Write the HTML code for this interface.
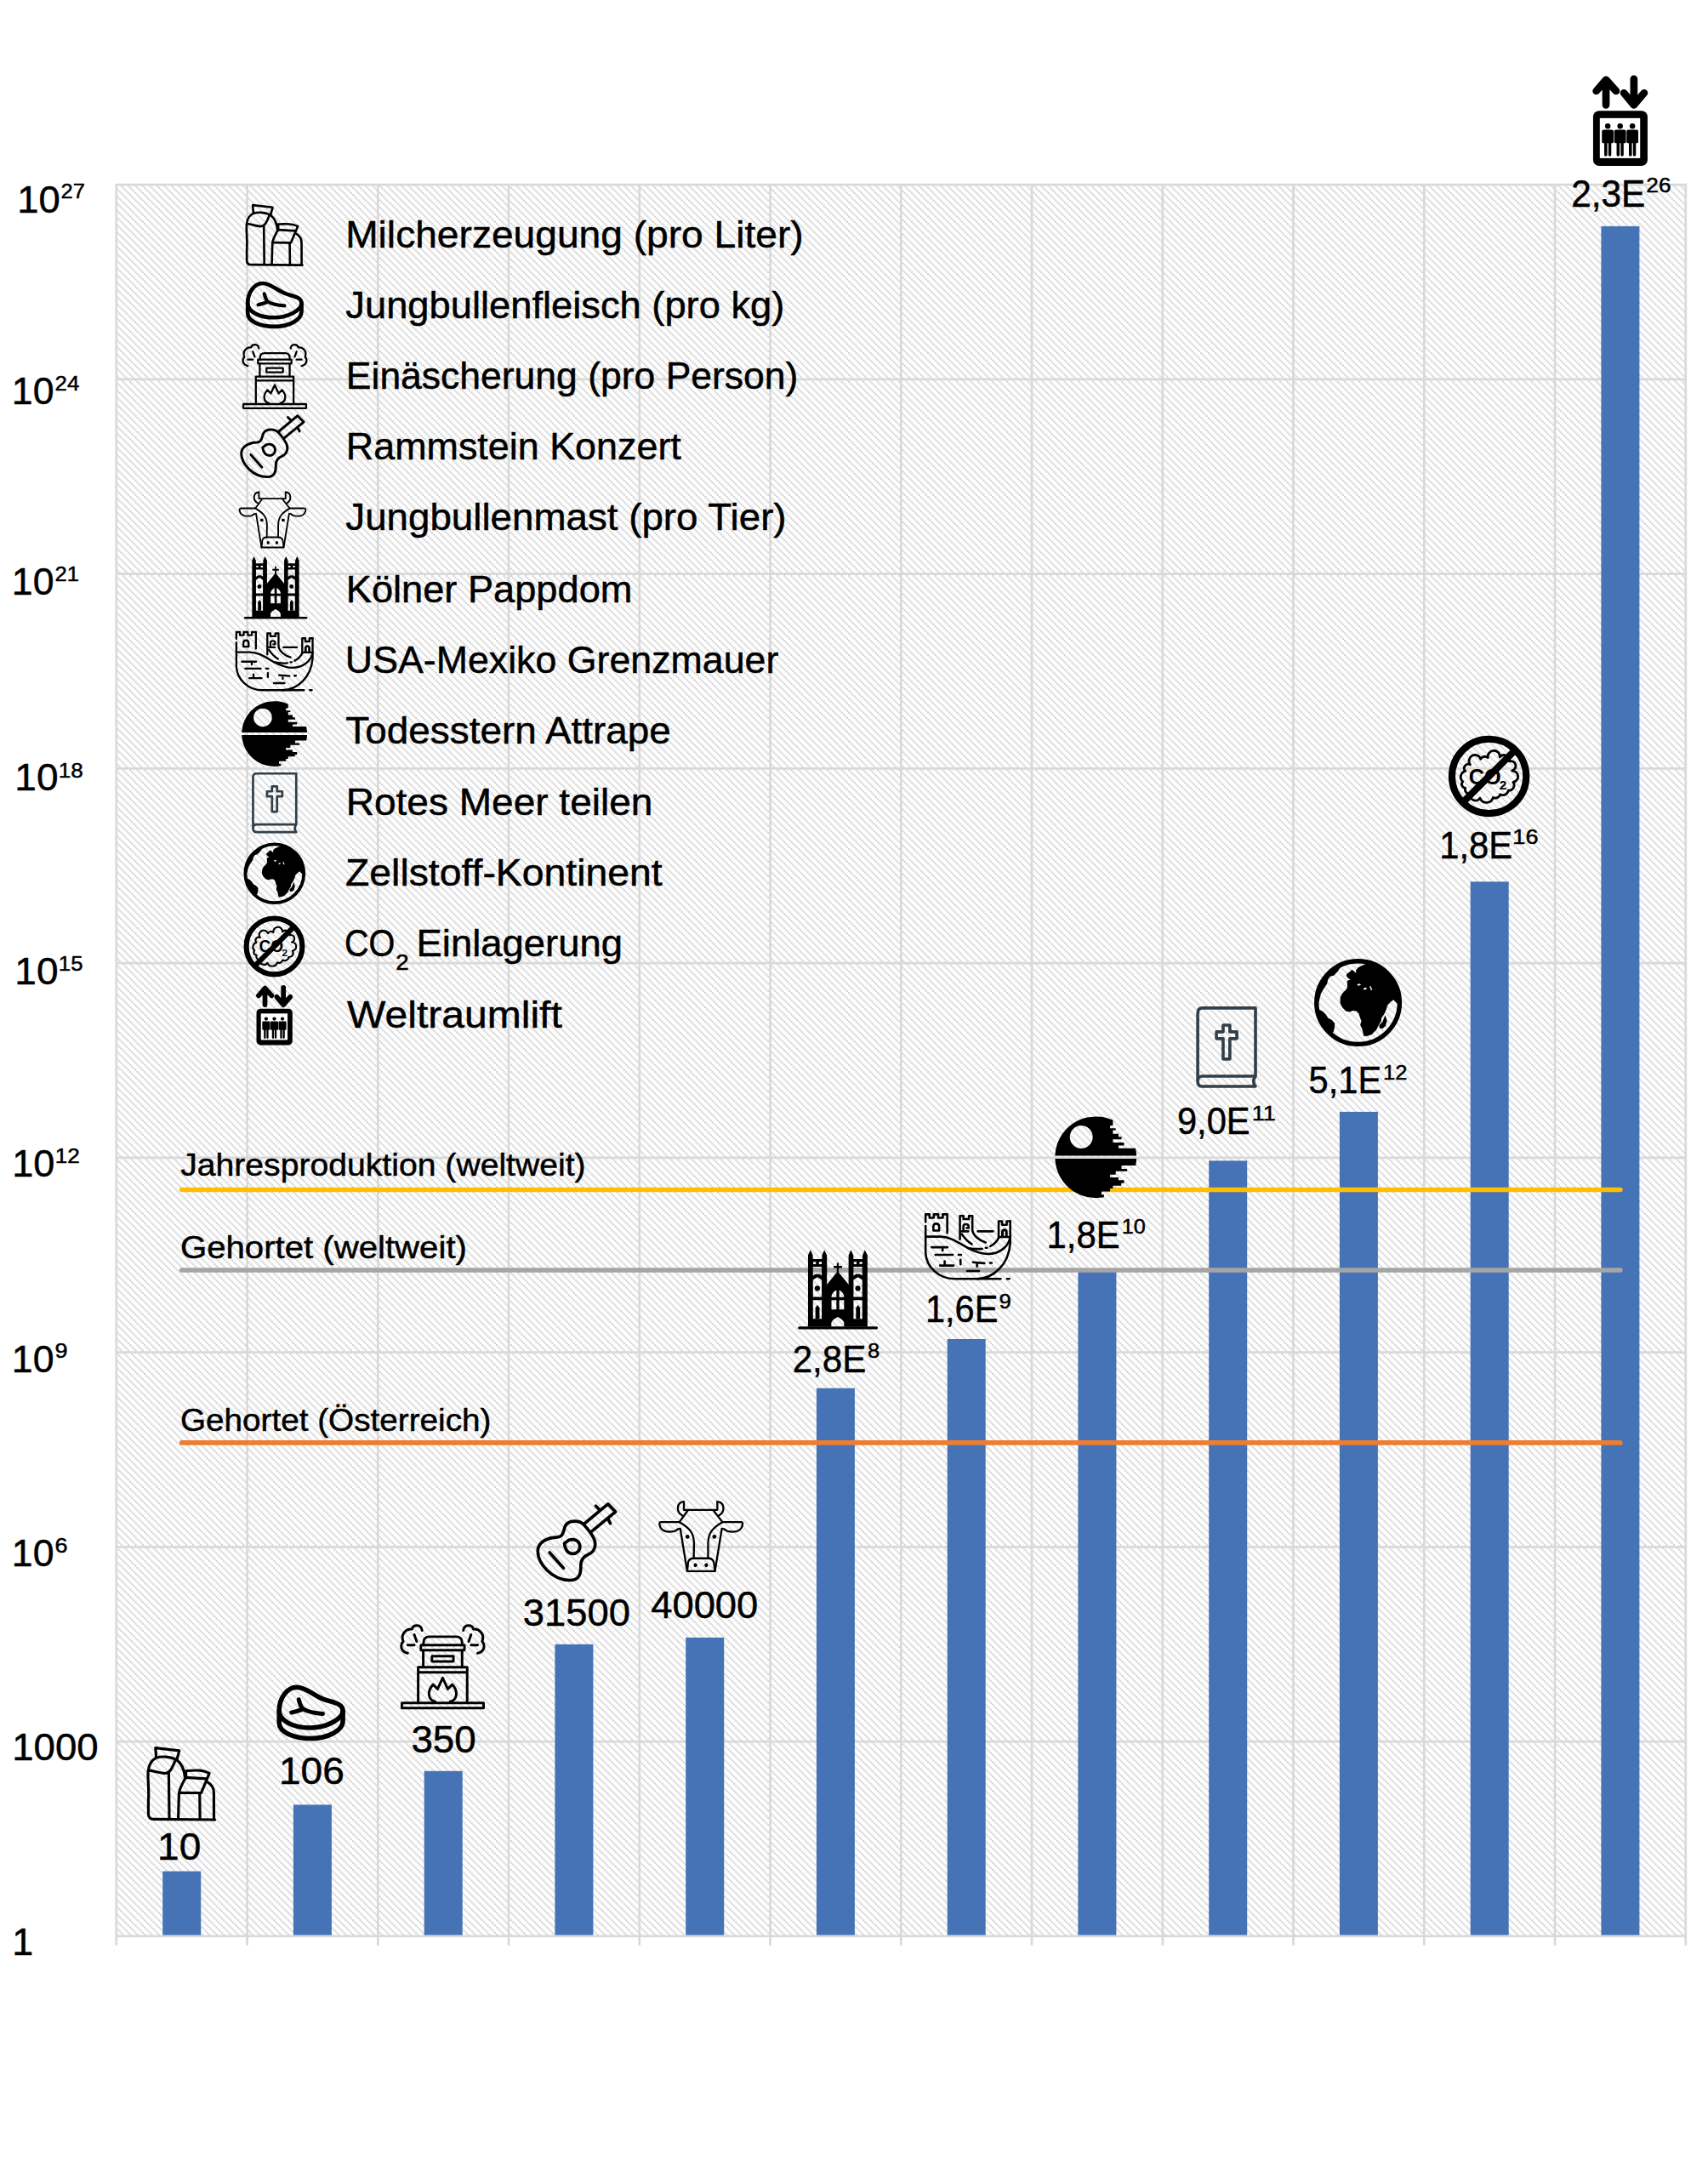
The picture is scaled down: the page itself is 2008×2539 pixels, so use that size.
<!DOCTYPE html>
<html lang="de"><head><meta charset="utf-8"><title>Chart</title>
<style>html,body{margin:0;padding:0;background:#fff}svg{display:block}text{font-family:"Liberation Sans",sans-serif;fill:#000;stroke:#000;stroke-width:.5px;stroke-linejoin:round}</style></head><body>
<svg width="2008" height="2539" viewBox="0 0 2008 2539">
<defs>
<pattern id="hatch" width="8.45" height="8.45" patternUnits="userSpaceOnUse"><rect width="8.45" height="8.45" fill="#fff"/><path d="M0,0h2.11v2.11h-2.11zM2.11,2.11h2.11v2.11h-2.11zM4.22,4.22h2.12v2.12h-2.12zM6.34,6.34h2.11v2.11h-2.11z" fill="#d2d2d2"/></pattern>
<g id="i-milk" fill="none" stroke="#000" stroke-width="54" stroke-linecap="round" stroke-linejoin="round">
<path d="M352,368 L338,182 L815,236 L768,418"/>
<path d="M192,645 C200,520 270,420 350,382 C460,345 630,350 748,412 C850,480 915,600 928,765"/>
<path d="M200,630 C330,650 450,692 530,692 C625,688 670,600 735,432"/>
<path d="M192,645 C175,800 215,1000 195,1250 L195,1500 Q195,1612 300,1612 L1530,1622"/>
<path d="M605,692 L615,1605"/>
<path d="M940,780 C880,900 815,1000 810,1100 L795,1610"/>
<path d="M950,790 L950,640 C1100,640 1250,600 1420,690 L1255,1085 L830,1082"/>
<path d="M950,775 L1365,800"/>
<path d="M1225,1090 L1232,1610"/>
<path d="M1385,870 C1470,920 1510,1000 1510,1080 L1512,1622"/>
</g>
<g id="i-steak" fill="none" stroke="#000" stroke-width="94" stroke-linecap="round" stroke-linejoin="round">
<path d="M225,700 C225,450 380,225 580,225 C760,225 900,380 1100,460 C1300,540 1500,540 1505,700 C1505,850 1200,1040 850,1040 C500,1040 225,900 225,700 Z"/>
<path d="M225,700 L225,940 C225,1130 520,1255 860,1255 C1200,1255 1505,1100 1505,900 L1505,700"/>
<path stroke-width="86" d="M620,475 C640,560 660,620 700,660 M475,735 C560,715 640,700 700,660 C800,720 950,750 1100,760"/>
</g>
<g id="i-crem" fill="none" stroke="#000" stroke-width="42" stroke-linecap="round" stroke-linejoin="round">
<rect x="177" y="1447" width="1368" height="88" rx="6"/>
<path d="M450,1445 V850 H1270 V1445 M450,935 H1270"/>
<path d="M535,570 V850 M1185,570 V850"/>
<rect x="495" y="480" width="730" height="86" rx="6"/>
<path d="M540,480 V440 Q540,340 640,340 H1085 Q1185,340 1185,440 V480"/>
<rect x="680" y="665" width="360" height="90" rx="6"/>
<path d="M735,1425 C620,1400 590,1260 700,1140 L775,1215 L860,1030 L945,1215 L1020,1140 C1130,1260 1100,1400 985,1425"/>
<path d="M515,235 C500,130 370,130 345,215 C250,200 150,300 200,420 C130,500 180,600 275,615 M385,305 L425,420 M275,480 H385"/>
<path d="M 1205.0,235 C 1220.0,130 1350.0,130 1375.0,215 C 1470.0,200 1570.0,300 1520.0,420 C 1590.0,500 1540.0,600 1445.0,615 M 1335.0,305 L 1295.0,420 M 1445.0,480 H 1335.0"/>
</g>
<g id="i-guitar" fill="none" stroke="#000" stroke-width="54" stroke-linecap="round" stroke-linejoin="round">
<path d="M975,530 C900,455 700,440 650,570 C620,660 620,740 520,748 C350,755 180,830 180,990 C180,1200 420,1495 740,1495 C900,1495 930,1380 925,1230 C925,1130 980,1080 1060,1045 C1170,1000 1200,880 1150,770 C1110,690 1040,600 975,530 Z"/>
<path d="M975,525 L1395,175 L1525,310 L1095,665"/>
<path d="M1185,210 L1250,275 M1400,440 L1435,510"/>
<path d="M640,858 L720,800 C800,770 900,800 910,905 C915,990 850,1035 785,1035 C700,1035 655,960 640,858 Z"/>
<path d="M385,1015 L625,1285"/>
</g>
<g id="i-cow" fill="none" stroke="#000" stroke-width="33" stroke-linecap="round" stroke-linejoin="round">
<path d="M555,188 V325 H1115 V188"/>
<path d="M555,188 C430,200 420,360 530,420 M1115,188 C1240,200 1250,360 1140,420"/>
<path d="M620,335 L480,528 M1050,335 L1200,528"/>
<path d="M480,528 L170,528 Q138,532 150,580 C175,690 290,705 400,680 Q440,665 455,645 L495,640 L610,1350 H1075 L1190,640 L1230,645 Q1245,665 1285,680 C1395,705 1510,690 1535,580 Q1547,532 1515,528 L1200,528"/>
<path d="M480,530 C640,620 720,700 725,880 L720,1135 M1200,530 C1045,620 965,700 960,880 L960,1135"/>
<path d="M612,1345 L625,1205 Q640,1135 720,1135 H965 Q1040,1135 1057,1205 L1075,1345"/>
<g fill="#000" stroke="none"><circle cx="615" cy="775" r="34"/><circle cx="1065" cy="775" r="34"/><ellipse cx="748" cy="1250" rx="30" ry="34"/><ellipse cx="930" cy="1250" rx="30" ry="34"/></g>
</g>
<g id="i-church" fill="#000" stroke="none">
<path fill-rule="evenodd" d="M310,1545 V240 L352,145 L398,240 V310 H565 V240 L608,145 L655,240 V1545 Z M405,362 H455 V402 H405 Z M510,362 H560 V402 H510 Z M400,450 H560 V612 C540,590 510,575 480,585 C450,575 420,595 400,618 Z M400,690 L480,640 L560,690 V1000 H400 Z M400,1060 H560 V1400 H400 Z"/>
<path fill-rule="evenodd" d="M1050,1545 V240 L1092,145 L1138,240 V310 H1305 V240 L1348,145 L1395,240 V1545 Z M1145,362 H1195 V402 H1145 Z M1250,362 H1300 V402 H1250 Z M1140,450 H1300 V612 C1280,590 1250,575 1220,585 C1190,575 1160,595 1140,618 Z M1140,690 L1220,640 L1300,690 V1000 H1140 Z M1140,1060 H1300 V1400 H1140 Z"/>
<circle cx="480" cy="845" r="48"/><path d="M445,1400 V1200 L482,1150 L520,1200 V1400 Z"/><circle cx="1220" cy="845" r="48"/><path d="M1185,1400 V1200 L1222,1150 L1260,1200 V1400 Z"/>
<path fill-rule="evenodd" d="M640,1545 V792 L852,530 L1065,792 V1545 Z M738,1005 V985 C750,930 790,890 828,878 V1005 Z M968,1005 V985 C955,930 915,890 880,878 V1005 Z M738,1058 H828 V1230 H738 Z M880,1058 H968 V1230 H880 Z M735,1545 V1475 Q745,1420 852,1365 Q958,1420 968,1475 V1545 Z"/>
<path d="M835,380 H870 V435 H930 V475 H870 V560 H835 V475 H778 V435 H835 Z"/>
<rect x="125" y="1540" width="1460" height="52" rx="26"/>
</g>
<g id="i-wall" fill="none" stroke="#000" stroke-width="38" stroke-linecap="round" stroke-linejoin="round">
<path d="M120,270 V138 H188 V198 H262 V138 H340 V198 H418 V138 H495 V460"/>
<path d="M255,420 V350 Q255,300 305,300 Q355,300 355,350 V420 Z"/>
<path d="M120,340 V800 C130,1050 350,1255 620,1255 H1000 C1300,1255 1560,1000 1585,640 V258"/>
<path d="M1000,1255 H1420 M1530,1255 H1570"/>
<path d="M120,525 H380 C560,525 700,640 850,720 C1000,800 1100,825 1200,825 C1400,825 1540,700 1580,560"/>
<path d="M850,720 C950,740 1030,742 1100,735 M1160,718 H1185"/>
<path d="M1385,545 V258 H1445 V320 H1525 V258 H1585 M1385,530 H1585"/>
<path stroke-width="44" d="M1450,520 V450 Q1450,410 1485,410 Q1520,410 1520,450 V520"/>
<path d="M715,570 V165 H775 V220 H870 V165 H930 V400 C930,500 1050,590 1160,625"/>
<path d="M745,480 C800,560 860,620 920,655"/>
<path d="M775,400 V345 Q775,310 820,310 Q865,310 865,350 V375 H830 M745,432 H860"/>
<path d="M1385,545 C1350,620 1300,660 1240,690"/>
<path d="M1025,432 H1285"/>
<path d="M225,708 H500 M415,708 V765 M290,840 H590 M690,840 H735 M725,925 V1005 M450,950 V1025 M370,1025 H605 M940,968 L1140,985 M1010,980 V1040 M1235,978 H1265 M840,1120 H1045"/>
</g>
<g id="i-dstar" fill="#000" stroke="none">
<path fill-rule="evenodd" d="M858,128 L699,146 L634,163 L586,181 L546,198 L511,216 L480,233 L453,251 L428,268 L405,286 L383,304 L363,321 L345,339 L328,356 L312,374 L297,391 L283,409 L269,426 L257,444 L245,461 L234,479 L224,497 L214,514 L205,532 L197,549 L189,567 L181,584 L174,602 L168,619 L162,637 L157,654 L152,672 L148,690 L144,707 L140,725 L137,742 L135,760 L132,777 L131,795 L129,812 L129,830 L1587,830 L1587,826 L1587,823 L1587,819 L1587,816 L1587,812 L1586,809 L1586,805 L1586,802 L1586,798 L1585,795 L1585,791 L1585,788 L1584,784 L1584,781 L1584,777 L1583,774 L1583,770 L1582,767 L1582,763 L1581,760 L1581,756 L1580,753 L1580,749 L1579,746 L1579,742 L1578,739 L1578,735 L1577,732 L1576,728 L1576,725 L1575,721 L1574,718 L1574,714 L1573,711 L1572,707 L1571,704 L1571,700 L1570,697 L1265,697 L1265,693 L1265,690 L1265,686 L1265,683 L1265,679 L1265,676 L1265,672 L1265,669 L1265,665 L1265,662 L1265,658 L1265,654 L1265,651 L1265,647 L1365,647 L1365,644 L1365,640 L1365,637 L1365,633 L1365,630 L1365,626 L1365,623 L1365,619 L1365,616 L1365,612 L1365,609 L1365,605 L1365,602 L1365,598 L1365,595 L1165,595 L1165,591 L1165,588 L1165,584 L1165,581 L1165,577 L1165,574 L1165,570 L1165,567 L1165,563 L1165,560 L1165,556 L1165,553 L1165,549 L1165,546 L1165,542 L1165,539 L1320,539 L1320,535 L1320,532 L1320,528 L1320,525 L1320,521 L1320,518 L1320,514 L1320,511 L1320,507 L1320,504 L1320,500 L1320,497 L1320,493 L1320,490 L1265,490 L1265,486 L1265,483 L1265,479 L1265,475 L1265,472 L1265,468 L1265,465 L1265,461 L1265,458 L1265,454 L1265,451 L1265,447 L1265,444 L1265,440 L1265,437 L1165,437 L1165,433 L1165,430 L1165,426 L1165,423 L1165,419 L1165,416 L1165,412 L1165,409 L1165,405 L1165,402 L1165,398 L1165,395 L1165,391 L1165,388 L1165,384 L1165,381 L1165,377 L1165,374 L1215,374 L1215,370 L1215,367 L1215,363 L1215,360 L1215,356 L1215,353 L1215,349 L1215,346 L1215,342 L1215,339 L1115,339 L1115,335 L1115,332 L1115,328 L1115,325 L1115,321 L1115,318 L1115,314 L1115,311 L1115,307 L1115,304 L1115,300 L1115,296 L1115,293 L1115,289 L1165,289 L1165,286 L1165,282 L1165,279 L1165,275 L1165,272 L1165,268 L1165,265 L1165,261 L1165,258 L1165,254 L1165,251 L1165,247 L1165,244 L1165,240 L1165,237 L1165,233 L1165,230 L1165,226 L1165,223 L1165,219 L1165,216 L1165,212 L1165,209 L1165,205 L1165,202 L1165,198 L1163,195 L1155,191 L1147,188 L1139,184 L1130,181 L1121,177 L1112,174 L1102,170 L1092,167 L1082,163 L1070,160 L1059,156 L1046,153 L1032,149 L1017,146 L1000,142 L982,139 L959,135 L930,132 L858,128 Z M803,495 A205,205 0 1 0 393,495 A205,205 0 1 0 803,495 Z"/>
<path d="M128,885 L129,903 L131,920 L132,938 L135,955 L137,973 L140,990 L144,1008 L148,1026 L152,1043 L157,1061 L162,1078 L168,1096 L174,1113 L181,1131 L188,1149 L196,1166 L205,1184 L214,1201 L223,1219 L234,1236 L245,1254 L257,1272 L269,1289 L282,1307 L296,1324 L311,1342 L328,1360 L345,1377 L363,1395 L383,1412 L404,1430 L427,1447 L452,1465 L480,1483 L511,1500 L545,1518 L586,1535 L634,1553 L699,1570 L858,1588 L858,1588 L930,1584 L959,1581 L982,1577 L1001,1574 L1005,1570 L1005,1567 L1005,1563 L1005,1560 L1005,1556 L1005,1553 L1005,1549 L1005,1546 L1005,1542 L1005,1539 L1005,1535 L1005,1532 L1005,1528 L960,1528 L960,1525 L960,1521 L960,1518 L960,1514 L960,1511 L960,1507 L960,1504 L960,1500 L960,1497 L960,1493 L960,1490 L960,1486 L960,1483 L960,1479 L960,1476 L960,1472 L1115,1472 L1115,1468 L1115,1465 L1115,1461 L1115,1458 L1115,1454 L1115,1451 L1115,1447 L1115,1444 L1115,1440 L1115,1437 L1115,1433 L1115,1430 L1115,1426 L1115,1423 L1115,1419 L1165,1419 L1165,1416 L1165,1412 L1165,1409 L1165,1405 L1165,1402 L1165,1398 L1165,1395 L1165,1391 L1165,1388 L1165,1384 L1165,1381 L1165,1377 L1165,1374 L1165,1370 L1165,1367 L1315,1367 L1315,1363 L1315,1360 L1315,1356 L1315,1352 L1315,1349 L1315,1345 L1315,1342 L1315,1338 L1315,1335 L1315,1331 L1315,1328 L1315,1324 L1365,1324 L1365,1321 L1365,1317 L1365,1314 L1365,1310 L1365,1307 L1365,1303 L1365,1300 L1365,1296 L1365,1293 L1365,1289 L1365,1286 L1365,1282 L1365,1279 L1365,1275 L1365,1272 L1365,1268 L1265,1268 L1265,1265 L1265,1261 L1265,1258 L1265,1254 L1265,1251 L1265,1247 L1265,1244 L1265,1240 L1265,1236 L1265,1233 L1265,1229 L1265,1226 L1265,1222 L1265,1219 L1115,1219 L1115,1215 L1115,1212 L1115,1208 L1115,1205 L1115,1201 L1115,1198 L1115,1194 L1115,1191 L1115,1187 L1115,1184 L1115,1180 L1115,1177 L1115,1173 L1115,1170 L1215,1170 L1215,1166 L1215,1163 L1215,1159 L1215,1156 L1215,1152 L1215,1149 L1215,1145 L1215,1142 L1215,1138 L1215,1135 L1215,1131 L1215,1128 L1215,1124 L1215,1121 L1215,1117 L1215,1113 L1215,1110 L1420,1110 L1420,1106 L1420,1103 L1420,1099 L1420,1096 L1420,1092 L1420,1089 L1420,1085 L1420,1082 L1420,1078 L1420,1075 L1420,1071 L1420,1068 L1320,1068 L1320,1064 L1320,1061 L1320,1057 L1320,1054 L1320,1050 L1320,1047 L1320,1043 L1320,1040 L1320,1036 L1320,1033 L1320,1029 L1320,1026 L1320,1022 L1320,1019 L1320,1015 L1320,1012 L1320,1008 L1572,1008 L1573,1005 L1574,1001 L1575,997 L1575,994 L1576,990 L1577,987 L1577,983 L1578,980 L1578,976 L1579,973 L1579,969 L1580,966 L1581,962 L1581,959 L1581,955 L1582,952 L1582,948 L1583,945 L1583,941 L1584,938 L1584,934 L1584,931 L1585,927 L1585,924 L1585,920 L1586,917 L1586,913 L1586,910 L1586,906 L1587,903 L1587,899 L1587,896 L1587,892 L1587,889 L1588,885 Z"/>
</g>
<g id="i-bible" fill="none" stroke="#333f48" stroke-width="62" stroke-linecap="round" stroke-linejoin="round">
<path d="M1435,1555 V185 H370 Q275,185 275,290 V1660 Q275,1760 370,1760 H1435 C1388,1700 1388,1620 1435,1555 H370 Q275,1555 275,1660"/>
<path d="M785,530 H920 V665 H1060 V800 H920 V1210 H785 V800 H650 V665 H785 Z"/>
</g>
<g id="i-globe">
<circle cx="848" cy="848" r="707" fill="none" stroke="#000" stroke-width="78"/>
<path fill="#000" fill-rule="evenodd" d="M960,195 L850,250 L810,300 L818,348 L745,285 L700,330 L665,350 L645,390 L690,440 L722,450 L660,480 L668,580 L650,620 L580,690 L545,760 L545,860 L580,930 L640,990 L700,1005 L760,985 L820,990 L860,1030 L880,1100 L905,1160 L885,1230 L920,1300 L945,1420 L1010,1415 L1080,1390 L1160,1310 L1190,1250 L1240,1160 L1250,1100 L1290,1050 L1330,960 L1350,890 L1400,840 L1450,800 L1520,870 L1563,848 L1556,748 L1535,651 L1501,557 L1454,469 L1396,388 L1326,317 L1248,255 L1161,205 L1069,168 Z M825,545 L865,520 L900,545 L860,560 Z M930,610 L975,590 L1005,610 L960,628 Z M1045,575 L1060,560 L1090,630 L1070,640 Z"/>
<path fill="#000" d="M1310,1060 L1340,1150 L1320,1240 L1262,1292 L1215,1282 L1208,1232 L1260,1180 L1290,1110 Z"/>
<path fill="#000" d="M170,955 L250,1000 L300,1050 L340,1110 L400,1140 L452,1200 L447,1280 L432,1340 L395,1385 L300,1300 L200,1150 L150,1000 Z"/>
<path fill="#000" d="M610,180 L555,240 L500,320 L440,382 L370,405 L335,460 L320,530 L270,600 L215,700 L182,835 L135,835 L150,600 L300,350 L500,195 Z"/>
</g>
<g id="i-co2">
<path d="M503,633 A110,110 0 1 1 695,531 A85,85 0 0 1 827,507 A110,110 0 1 1 1045,494 A100,100 0 0 1 1219,572 A90,90 0 0 1 1270,745 A105,105 0 0 1 1287,954 A95,95 0 0 1 1199,1104 A100,100 0 0 1 1051,1177 A95,95 0 0 1 920,1236 A125,125 0 0 1 683,1245 A100,100 0 0 1 502,1169 A80,80 0 0 1 416,1060 A70,70 0 0 1 368,943 A110,110 0 0 1 416,753 A75,75 0 0 1 503,633 Z" fill="none" stroke="#000" stroke-width="44" stroke-linejoin="round"/>
<text x="478" y="988" font-size="400" font-weight="bold" textLength="590" lengthAdjust="spacingAndGlyphs" style="font-family:'Liberation Sans',sans-serif;stroke:none">CO</text>
<text x="1035" y="1082" font-size="240" font-weight="bold" style="font-family:'Liberation Sans',sans-serif;stroke:none">2</text>
<circle cx="848" cy="845" r="678" fill="none" stroke="#000" stroke-width="126"/>
<path d="M372,1322 L1325,368" stroke="#000" stroke-width="126" fill="none"/>
</g>
<g id="i-elev">
<rect x="295" y="875" width="1115" height="1130" rx="125" fill="#000"/>
<rect x="432" y="1025" width="826" height="820" fill="#fff"/>
<g fill="#000"><circle cx="595" cy="1190" r="56"/><rect x="475" y="1265" width="240" height="272" rx="32"/><rect x="523" y="1500" width="62" height="305" rx="30"/><rect x="607" y="1500" width="60" height="305" rx="30"/><circle cx="848" cy="1190" r="56"/><rect x="728" y="1265" width="240" height="272" rx="32"/><rect x="776" y="1500" width="62" height="305" rx="30"/><rect x="860" y="1500" width="60" height="305" rx="30"/><circle cx="1100" cy="1190" r="56"/><rect x="980" y="1265" width="240" height="272" rx="32"/><rect x="1028" y="1500" width="62" height="305" rx="30"/><rect x="1112" y="1500" width="60" height="305" rx="30"/></g>
<path d="M558,245 V755 M360,470 L558,240 L765,470 M1130,225 V740 M925,510 L1130,755 L1340,510" fill="none" stroke="#000" stroke-width="152" stroke-linecap="round" stroke-linejoin="round"/>
</g>
</defs>
<rect x="0" y="0" width="2008" height="2539" fill="#fff"/>
<rect x="136.8" y="217.2" width="1845.0" height="2058.6000000000004" fill="url(#hatch)"/>
<path d="M135.5,217.2H1983.1 M135.5,445.9H1983.1 M135.5,674.7H1983.1 M135.5,903.4H1983.1 M135.5,1132.1H1983.1 M135.5,1360.9H1983.1 M135.5,1589.6H1983.1 M135.5,1818.3H1983.1 M135.5,2047.1H1983.1 M135.5,2275.8H1983.1 M136.8,217.2V2286.8 M290.6,217.2V2286.8 M444.3,217.2V2286.8 M598.0,217.2V2286.8 M751.8,217.2V2286.8 M905.5,217.2V2286.8 M1059.3,217.2V2286.8 M1213.0,217.2V2286.8 M1366.8,217.2V2286.8 M1520.5,217.2V2286.8 M1674.3,217.2V2286.8 M1828.0,217.2V2286.8 M1981.8,217.2V2286.8" stroke="#d9d9d9" stroke-width="2.7" fill="none"/>
<rect x="191.2" y="2199.6" width="45" height="75.0" fill="#4672b6"/>
<rect x="344.9" y="2121.4" width="45" height="153.2" fill="#4672b6"/>
<rect x="498.7" y="2081.8" width="45" height="192.8" fill="#4672b6"/>
<rect x="652.4" y="1932.8" width="45" height="341.8" fill="#4672b6"/>
<rect x="806.2" y="1924.9" width="45" height="349.7" fill="#4672b6"/>
<rect x="959.9" y="1631.8" width="45" height="642.8" fill="#4672b6"/>
<rect x="1113.7" y="1574.0" width="45" height="700.6" fill="#4672b6"/>
<rect x="1267.4" y="1493.9" width="45" height="780.7" fill="#4672b6"/>
<rect x="1421.2" y="1364.4" width="45" height="910.2" fill="#4672b6"/>
<rect x="1574.9" y="1306.9" width="45" height="967.7" fill="#4672b6"/>
<rect x="1728.7" y="1036.4" width="45" height="1238.2" fill="#4672b6"/>
<rect x="1882.4" y="265.9" width="45" height="2008.7" fill="#4672b6"/>

<line x1="213.7" y1="1398.5" x2="1904.9" y2="1398.5" stroke="#ffbf00" stroke-width="5.6" stroke-linecap="round"/>
<line x1="213.7" y1="1493.0" x2="1904.9" y2="1493.0" stroke="#a5a5a5" stroke-width="5.6" stroke-linecap="round"/>
<line x1="213.7" y1="1695.9" x2="1904.9" y2="1695.9" stroke="#ed7d31" stroke-width="5.6" stroke-linecap="round"/>
<use href="#i-milk" transform="translate(163,2044) scale(0.05855)"/>
<use href="#i-milk" transform="translate(280.60,232.21) scale(0.04895)"/>
<use href="#i-steak" transform="translate(315,1970) scale(0.05855)"/>
<use href="#i-steak" transform="translate(280.06,321.84) scale(0.04947)"/>
<use href="#i-crem" transform="translate(460,1900) scale(0.07026)"/>
<use href="#i-crem" transform="translate(276.49,396.78) scale(0.05406)"/>
<use href="#i-guitar" transform="translate(620,1756) scale(0.06792)"/>
<use href="#i-guitar" transform="translate(273.86,479.13) scale(0.05452)"/>
<use href="#i-cow" transform="translate(765,1752) scale(0.07026)"/>
<use href="#i-cow" transform="translate(273.39,568.02) scale(0.05591)"/>
<use href="#i-church" transform="translate(930,1460) scale(0.06440)"/>
<use href="#i-church" transform="translate(280.56,646.50) scale(0.05095)"/>
<use href="#i-wall" transform="translate(1080,1418) scale(0.06792)"/>
<use href="#i-wall" transform="translate(270.53,734.42) scale(0.06121)"/>
<use href="#i-dstar" transform="translate(1232,1304) scale(0.06557)"/>
<use href="#i-dstar" transform="translate(277.49,817.40) scale(0.05259)"/>
<use href="#i-bible" transform="translate(1392,1174) scale(0.05855)"/>
<use href="#i-bible" transform="translate(285.45,901.16) scale(0.04377)"/>
<use href="#i-globe" transform="translate(1538,1120) scale(0.06908)"/>
<use href="#i-globe" transform="translate(281.51,985.41) scale(0.04870)"/>
<use href="#i-co2" transform="translate(1696,858) scale(0.06440)"/>
<use href="#i-co2" transform="translate(281.32,1071.38) scale(0.04855)"/>
<use href="#i-elev" transform="translate(1856,80) scale(0.05741)"/>
<use href="#i-elev" transform="translate(290.34,1152.47) scale(0.03792)"/>
<text transform="translate(20.19,250.15) scale(1.0092,1)" font-size="45.0">10</text>
<text transform="translate(71.52,233.15) scale(1.0384,1)" font-size="24.6">27</text>
<text transform="translate(13.85,475.15) scale(0.9914,1)" font-size="45.0">10</text>
<text transform="translate(64.51,458.65) scale(1.0512,1)" font-size="24.6">24</text>
<text transform="translate(13.85,699.15) scale(0.9914,1)" font-size="45.0">10</text>
<text transform="translate(64.52,682.55) scale(1.0398,1)" font-size="24.6">21</text>
<text transform="translate(17.35,929.35) scale(1.0226,1)" font-size="45.0">10</text>
<text transform="translate(68.84,913.65) scale(1.0608,1)" font-size="24.6">18</text>
<text transform="translate(17.35,1157.15) scale(1.0226,1)" font-size="45.0">10</text>
<text transform="translate(68.87,1140.85) scale(1.0459,1)" font-size="24.6">15</text>
<text transform="translate(14.22,1382.75) scale(1.0025,1)" font-size="45.0">10</text>
<text transform="translate(64.74,1366.55) scale(1.0648,1)" font-size="24.6">12</text>
<text transform="translate(13.85,1613.45) scale(0.9914,1)" font-size="45.0">10</text>
<text transform="translate(64.52,1596.35) scale(1.0987,1)" font-size="24.6">9</text>
<text transform="translate(13.85,1841.15) scale(0.9914,1)" font-size="45.0">10</text>
<text transform="translate(64.45,1824.75) scale(1.0987,1)" font-size="24.6">6</text>
<text transform="translate(14.18,2068.65) scale(1.0142,1)" font-size="45.0">1000</text>
<text transform="translate(14.24,2297.60) scale(0.9968,1)" font-size="45.0">1</text>
<text transform="translate(185.04,2185.55) scale(1.0248,1)" font-size="45.0">10</text>
<text transform="translate(327.95,2096.85) scale(1.0237,1)" font-size="45.0">106</text>
<text transform="translate(483.38,2059.65) scale(1.0173,1)" font-size="45.0">350</text>
<text transform="translate(614.80,1911.35) scale(1.0088,1)" font-size="45.0">31500</text>
<text transform="translate(765.18,1902.35) scale(1.0082,1)" font-size="45.0">40000</text>
<text transform="translate(931.70,1613.15) scale(0.9353,1)" font-size="45.0">2,8E</text>
<text transform="translate(1019.91,1596.45) scale(1.0379,1)" font-size="24.6">8</text>
<text transform="translate(1087.98,1554.45) scale(0.9233,1)" font-size="45.0">1,6E</text>
<text transform="translate(1174.48,1537.75) scale(1.0459,1)" font-size="24.6">9</text>
<text transform="translate(1230.56,1466.95) scale(0.9290,1)" font-size="45.0">1,8E</text>
<text transform="translate(1318.71,1450.15) scale(1.0270,1)" font-size="24.6">10</text>
<text transform="translate(1383.92,1332.85) scale(0.9262,1)" font-size="45.0">9,0E</text>
<text transform="translate(1471.66,1316.60) scale(1.1062,1)" font-size="24.6">11</text>
<text transform="translate(1538.54,1285.45) scale(0.9249,1)" font-size="45.0">5,1E</text>
<text transform="translate(1626.08,1269.25) scale(1.0400,1)" font-size="24.6">12</text>
<text transform="translate(1692.27,1008.95) scale(0.9278,1)" font-size="45.0">1,8E</text>
<text transform="translate(1778.37,992.05) scale(1.1018,1)" font-size="24.6">16</text>
<text transform="translate(1847.18,242.85) scale(0.9420,1)" font-size="45.0">2,3E</text>
<text transform="translate(1935.29,226.25) scale(1.0667,1)" font-size="24.6">26</text>
<text transform="translate(406.19,290.60) scale(1.0488,1)" font-size="44.0">Milcherzeugung (pro Liter)</text>
<text transform="translate(406.32,373.90) scale(1.0296,1)" font-size="44.0">Jungbullenfleisch (pro kg)</text>
<text transform="translate(406.83,457.00) scale(1.0111,1)" font-size="44.0">Einäscherung (pro Person)</text>
<text transform="translate(406.80,540.40) scale(1.0200,1)" font-size="44.0">Rammstein Konzert</text>
<text transform="translate(406.31,623.40) scale(1.0390,1)" font-size="44.0">Jungbullenmast (pro Tier)</text>
<text transform="translate(406.77,707.90) scale(1.0274,1)" font-size="44.0">Kölner Pappdom</text>
<text transform="translate(405.83,791.00) scale(1.0165,1)" font-size="44.0">USA-Mexiko Grenzmauer</text>
<text transform="translate(406.37,874.40) scale(1.0429,1)" font-size="44.0">Todesstern Attrape</text>
<text transform="translate(406.70,957.60) scale(1.0465,1)" font-size="44.0">Rotes Meer teilen</text>
<text transform="translate(405.99,1040.60) scale(1.0536,1)" font-size="44.0">Zellstoff-Kontinent</text>
<text transform="translate(408.06,1207.90) scale(1.0923,1)" font-size="44.0">Weltraumlift</text>
<text transform="translate(404.92,1123.80) scale(0.9010,1)" font-size="44.0">CO</text>
<text transform="translate(465.22,1140.40) scale(1.1077,1)" font-size="25.0">2</text>
<text transform="translate(489.55,1123.80) scale(1.0325,1)" font-size="44.0">Einlagerung</text>
<text transform="translate(212.21,1382.20) scale(1.0638,1)" font-size="36.8">Jahresproduktion (weltweit)</text>
<text transform="translate(211.89,1478.60) scale(1.0915,1)" font-size="36.8">Gehortet (weltweit)</text>
<text transform="translate(211.97,1681.90) scale(1.0512,1)" font-size="36.8">Gehortet (Österreich)</text>
</svg></body></html>
